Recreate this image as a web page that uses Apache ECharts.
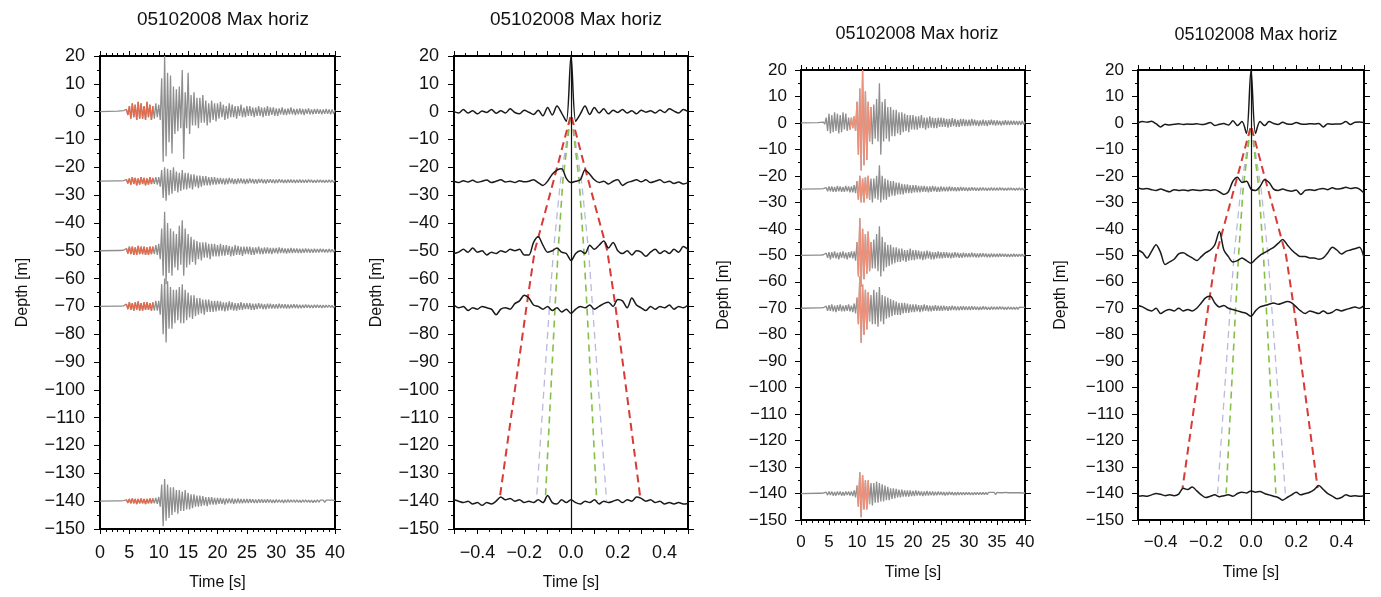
<!DOCTYPE html>
<html><head><meta charset="utf-8">
<script src="https://cdn.jsdelivr.net/npm/echarts@6/dist/echarts.min.js"></script>
<style>html,body{margin:0;padding:0;background:#fff}#c{width:1381px;height:597px}</style>
</head><body><div id="c"></div>
<script>
// ---------------- data ----------------
const titleText = '05102008 Max horiz';
const traceDepths = [0, -25, -50, -70, -140];
const seisStart = 3, seisStep = 0.25;   // seismogram sample times: 3.00, 3.25, ... 40.00 s

// panel 1 seismograms (amplitude relative to trace depth)
const p1Trace0 = [0.2,-0.2,0.3,-0.3, 0.4,-0.3,0.8,-1.2, 2,-2.5,3,-2, 2.5,-3,3.5,-2.5, 3,-2.5,2,-3, 3.5,-2,2.5,-3, 2,-2.5,3,-2, 2.5,-3,12,-18, 20,-16,14,-11, 13,-15,9,-8, 8,-7,9,-6, 15,-17,7,-6, 14,-8,6,-5, 7,-5,5,-6, 5,-4,6,-4, 4,-5,3,-4, 4,-3,3,-3.5,
  3,-2.5,3.5,-2, 2.5,-3,2,-2.5, 3,-2,2.5,-2, 2,-2.5,2,-1.5, 2.5,-2,1.5,-2,
  2,-1.5,2,-1.5, 1.5,-2,1.5,-1.5, 2,-1.5,1.5,-2, 1.5,-1.5,2,-1.5, 1.5,-1.2,1.5,-1.5,
  1.2,-1.5,1.2,-1, 1.5,-1.2,1,-1.2, 1.2,-1,1.5,-1, 1,-1.2,1,-1, 1.2,-1,1,-1.2,
  1,-0.8,1.2,-1, 0.8,-1,1,-0.8, 1,-0.8,0.8,-1, 0.8,-0.8,1,-0.8, 0.8,-1,0.8,-0.8, 0.6];
const p1Trace1 = [0.1,-0.1,0.1,-0.1, 0.2,-0.2,0.6,-0.8, 1,-1.2,1.5,-1, 1.2,-1.5,1,-1.2, 1.5,-1,1.2,-1.5, 1,-1.2,1.5,-1, 1.2,-1,1.5,-1.2, 1.5,-2,4,-6, 5,-7,4.5,-5, 4,-4.5,5,-3.5, 3.5,-4,3,-3.5, 4,-3,3,-3, 3,-2.5,2.5,-3, 2.5,-2,2,-2.5, 2,-2,1.8,-1.5, 1.8,-1.5,1.5,-1.5, 1.5,-1.2,1.5,-1.2,
  1.2,-1,1.2,-1, 1,-1.2,1,-1, 1.2,-0.8,1,-1, 0.8,-1,1,-0.8, 1,-0.8,0.8,-1,
  0.8,-0.8,1,-0.7, 0.8,-0.8,0.7,-0.8, 0.8,-0.6,0.8,-0.7, 0.6,-0.8,0.7,-0.6, 0.7,-0.6,0.6,-0.7,
  0.6,-0.6,0.7,-0.5, 0.6,-0.6,0.5,-0.6, 0.6,-0.5,0.6,-0.5, 0.5,-0.6,0.5,-0.5, 0.6,-0.5,0.5,-0.5,
  0.5,-0.5,0.6,-0.4, 0.5,-0.5,0.4,-0.5, 0.5,-0.4,0.5,-0.4, 0.4,-0.5,0.4,-0.4, 0.5,-0.4,0.4,-0.4, 0.3];
const p1Trace2 = [0.1,-0.1,0.1,-0.1, 0.2,-0.3,0.8,-1, 1.5,-1.2,1.5,-1.5, 1.2,-1.5,1.8,-1.2, 1.5,-1.2,1.5,-1.5, 1.2,-1.5,1.5,-1.2, 1.5,-1.2,2,-1.5, 2.5,-3,8,-9, 14,-12,10,-8, 8,-9,7,-6, 6,-7,9,-5, 11,-9,8,-6, 6,-5,5,-4, 4,-5,3.5,-3, 3,-3.5,3,-2.5, 3,-2.5,2.5,-3, 2.5,-2,2.5,-2,
  2,-2,2.5,-1.8, 2,-1.8,2,-1.5, 1.8,-2,1.5,-1.8, 2,-1.5,1.8,-1.5, 1.5,-1.8,1.5,-1.2,
  1.5,-1.2,1.5,-1.5, 1.2,-1.5,1.2,-1, 1.5,-1.2,1,-1.2, 1.2,-1,1.2,-1, 1,-1.2,1,-0.8,
  1,-1,1.2,-0.8, 1,-0.8,0.8,-1, 0.8,-0.8,1,-0.8, 0.8,-0.7,0.8,-0.8, 0.7,-0.8,0.7,-0.7,
  0.8,-0.6,0.7,-0.7, 0.6,-0.7,0.7,-0.6, 0.6,-0.6,0.7,-0.5, 0.6,-0.6,0.5,-0.6, 0.6,-0.5,0.5,-0.5, 0.4];
const p1Trace3 = [0.1,-0.1,0.1,-0.1, 0.2,-0.3,0.8,-1, 1.5,-1.2,1.2,-1.5, 1.5,-1.2,1.8,-1.5, 1.2,-1.5,1.5,-1.2, 1.5,-1.2,1.2,-1.5, 1.5,-1.5,2,-1.5, 2,-3,8,-10, 10,-13,9,-8, 7,-8,6,-6, 6,-5,7,-6, 8,-6,6,-5, 5,-4,4,-4.5, 4,-3.5,3,-3, 3,-2.5,2.5,-3, 2.5,-2,2.5,-2, 2,-2,2,-1.8,
  2,-1.5,1.8,-1.5, 1.5,-1.8,1.5,-1.5, 1.8,-1.2,1.5,-1.5, 1.2,-1.5,1.2,-1.2, 1.5,-1.2,1.2,-1,
  1.2,-1,1.2,-1.2, 1,-1.2,1,-1, 1.2,-0.8,1,-1, 0.8,-1,1,-0.8, 1,-0.8,0.8,-0.8,
  0.8,-0.8,1,-0.7, 0.8,-0.7,0.8,-0.8, 0.7,-0.8,0.7,-0.6, 0.8,-0.6,0.7,-0.7, 0.6,-0.7,0.6,-0.6,
  0.7,-0.5,0.6,-0.6, 0.5,-0.6,0.6,-0.5, 0.6,-0.5,0.5,-0.6, 0.5,-0.5,0.5,-0.4, 0.5,-0.4,0.4,-0.5, 0.3];
const p1Trace4 = [0.1,-0.1,0.1,-0.1, 0.2,-0.2,0.5,-0.6, 0.8,-0.8,1,-0.8, 0.8,-1,0.8,-0.8, 1,-0.8,0.8,-1, 0.8,-0.8,1,-0.8, 1,-0.8,1.2,-1, 1.5,-2,6,-9, 8,-7,6,-6, 5,-5,5,-4, 4,-4.5,4,-3.5, 3.5,-3.5,4,-3, 3,-3,2.5,-2.5, 2.5,-2,2,-2, 2,-1.8,1.8,-1.5, 1.5,-1.8,1.5,-1.2, 1.5,-1.2,1.2,-1.2,
  1.2,-1,1.2,-1, 1,-1.2,1,-0.8, 1,-0.8,1,-1, 0.8,-0.8,1,-0.8, 0.8,-0.8,0.8,-0.7,
  0.8,-0.7,0.8,-0.6, 0.7,-0.7,0.6,-0.7, 0.7,-0.6,0.7,-0.6, 0.6,-0.6,0.7,-0.5, 0.6,-0.6,0.5,-0.6,
  0.6,-0.5,0.5,-0.5, 0.5,-0.6,0.5,-0.5, 0.6,-0.5,0.5,-0.4, 0.5,-0.5,0.5,-0.4, 0.4,-0.5,0.5,-0.4,
  0.5,-0.4,0.4,-0.4, 0.4,-0.5,0.4,-0.4, 0.5,-0.4,0.4,-0.3, 0.4,-0.4,0.4,-0.3, 0.4,-0.3,0.4,-0.3, 0.3];

// panel 3 seismograms
const p3Trace0 = [0.1,-0.1,0.2,-0.2, 0.3,-0.5,2,-3, 3.5,-4,3,-3.5, 4,-3,3.5,-4, 3,-3.5,4,-2.5, 3.5,-3,2,-2.5, 2,-2,2.5,-3, 8,-12,13,-18, 20,-16,12,-14, 8,-7,6,-8, 7,-6,9,-7, 15,-12,8,-7, 9,-6,6,-7, 6,-5,5,-5, 5,-4,4,-4.5, 4,-3.5,3.5,-3, 3,-3.5,3,-2.5,
  3,-2.5,2.5,-2.5, 2.5,-2,3,-2, 2,-2.5,2,-2, 2.5,-1.8,2,-2, 1.8,-2,2,-1.5,
  2,-1.5,1.8,-1.5, 1.5,-1.8,1.5,-1.5, 1.8,-1.2,1.5,-1.5, 1.2,-1.5,1.5,-1.2, 1.5,-1.2,1.2,-1.2,
  1.2,-1.2,1.5,-1, 1.2,-1,1,-1.2, 1,-1,1.2,-1, 1,-1.2,1,-0.8, 1.2,-0.8,1,-1,
  1,-0.8,0.8,-1, 0.8,-0.8,1,-0.8, 0.8,-0.8,0.8,-0.7, 0.8,-0.7,0.7,-0.8, 0.7,-0.7,0.7,-0.6, 0.5];
const p3Trace1 = [0.1,-0.1,0.1,-0.1, 0.2,-0.3,0.6,-0.8, 1,-0.8,1,-1, 0.8,-1,1.2,-0.8, 1,-1,0.8,-1, 1.2,-0.8,1,-1.2, 1,-1.2,1.5,-1.5, 3,-4,5,-5, 4,-5,4.5,-3.5, 5,-4,4,-5, 4,-3.5,5,-4, 9,-5,5,-4, 4,-4,3.5,-3, 3,-2.5,3,-2.5, 2.5,-2,2.5,-2, 2,-2,1.8,-1.5, 1.8,-1.5,1.5,-1.5,
  1.5,-1.2,1.5,-1.2, 1.2,-1.2,1.2,-1, 1.2,-1,1,-1.2, 1,-1,1.2,-0.8, 1,-1,0.8,-1,
  1,-0.8,0.8,-0.8, 0.8,-0.8,1,-0.7, 0.8,-0.7,0.7,-0.8, 0.7,-0.7,0.8,-0.6, 0.7,-0.6,0.6,-0.7,
  0.6,-0.6,0.7,-0.5, 0.6,-0.6,0.5,-0.6, 0.6,-0.5,0.6,-0.5, 0.5,-0.6,0.5,-0.5, 0.6,-0.5,0.5,-0.5,
  0.5,-0.5,0.6,-0.4, 0.5,-0.5,0.4,-0.5, 0.5,-0.4,0.5,-0.4, 0.4,-0.5,0.4,-0.4, 0.5,-0.4,0.4,-0.4, 0.3];
const p3Trace2 = [0.1,-0.1,0.1,-0.1, 0.2,-0.3,0.8,-1, 1.2,-1.5,1.2,-1, 1.5,-1.2,1,-1.5, 1.2,-1,1.5,-1.2, 1,-1.5,1.2,-1, 1.5,-1.2,1.5,-2, 5,-8,14,-12, 10,-9,8,-7, 9,-6,5,-5, 6,-5,8,-6, 11,-8,7,-6, 5,-4.5,4,-4, 4,-3.5,3,-3, 3,-2.5,2.5,-2.5, 2.5,-2,2,-2.5, 2,-2,2.5,-1.8,
  2,-1.8,2,-1.5, 1.8,-1.5,1.5,-1.8, 1.5,-1.5,1.8,-1.2, 1.5,-1.5,1.2,-1.5, 1.2,-1.2,1.5,-1.2,
  1.2,-1.2,1.2,-1, 1.2,-1,1,-1.2, 1,-1,1.2,-0.8, 1,-1,0.8,-1, 1,-0.8,0.8,-0.8,
  0.8,-0.8,1,-0.7, 0.8,-0.8,0.7,-0.8, 0.8,-0.7,0.8,-0.6, 0.7,-0.7,0.6,-0.7, 0.7,-0.6,0.6,-0.6,
  0.6,-0.6,0.7,-0.5, 0.6,-0.5,0.6,-0.6, 0.5,-0.6,0.5,-0.5, 0.6,-0.5,0.5,-0.5, 0.5,-0.4,0.5,-0.4, 0.3];
const p3Trace3 = [0.1,-0.1,0.1,-0.1, 0.2,-0.3,0.8,-1, 1.2,-1,1.5,-1.2, 1,-1.5,1.2,-1, 1.5,-1.2,1,-1.2, 1.2,-1,1.5,-1.2, 1,-1.5,1.8,-2, 4,-6,12,-13, 9,-10,7,-8, 6,-5,5,-6, 7,-6,6,-7, 8,-5,5,-6, 4.5,-4,4,-3.5, 3.5,-3,3,-2.5, 2.5,-2.5,2,-2.5, 2,-2,2,-1.8, 1.8,-1.8,1.5,-1.5,
  1.5,-1.5,1.5,-1.2, 1.2,-1.5,1.2,-1.2, 1.5,-1,1.2,-1.2, 1,-1.2,1,-1, 1.2,-1,1,-1,
  1,-1,1,-0.8, 0.8,-1,0.8,-0.8, 1,-0.7,0.8,-0.8, 0.7,-0.8,0.8,-0.7, 0.8,-0.7,0.7,-0.7,
  0.7,-0.7,0.8,-0.6, 0.7,-0.6,0.6,-0.7, 0.6,-0.6,0.7,-0.5, 0.6,-0.6,0.5,-0.6, 0.6,-0.5,0.5,-0.5,
  0.5,-0.5,0.6,-0.4, 0.5,-0.5,0.4,-0.5, 0.5,-0.4,0.4,-0.4, 0.4,-0.4,0.4,-0.4, 0.4,-0.3,0.3,-0.4, 0.3];
const p3Trace4 = [0.1,-0.1,0.1,-0.1, 0.2,-0.2,0.5,-0.6, 0.8,-0.6,0.8,-0.8, 0.6,-0.8,0.8,-0.6, 0.8,-0.8,0.6,-0.8, 0.8,-0.6,0.8,-0.8, 0.8,-1,1.2,-1.5, 3,-5,8,-9, 7,-6,5,-6, 5,-4,4,-4.5, 4,-3.5,4.5,-3.5, 4,-3,3.5,-3, 3,-2.5,2.5,-2.5, 2,-2,2,-1.8, 1.8,-1.5,1.5,-1.5, 1.5,-1.2,1.2,-1.2, 1.2,-1.2,1.2,-1,
  1,-1,1.2,-0.8, 1,-0.8,0.8,-1, 0.8,-0.8,1,-0.8, 0.8,-0.7,0.8,-0.8, 0.7,-0.7,0.8,-0.6,
  0.7,-0.6,0.6,-0.7, 0.6,-0.6,0.7,-0.5, 0.6,-0.6,0.5,-0.6, 0.6,-0.5,0.5,-0.5, 0.5,-0.5,0.5,-0.4,
  0.5,-0.5,0.4,-0.5, 0.5,-0.4,0.4,-0.4, 0.4,-0.4,0.5,-0.4, 0.4,-0.4,0.4,-0.3, 0.4,-0.3,0.4,-0.4,
  0.4,-0.3,0.3,-0.4, 0.3,-0.3,0.4,-0.3, 0.3,-0.3,0.3,-0.3, 0.3,-0.3,0.3,-0.2, 0.3,-0.3,0.2,-0.3, 0.2];

// highlighted (red) time windows per trace [s]
const p1RedStart = [4.5, 4.5, 4.5, 4.5, 4.5];
const p1RedEnd   = [9, 9, 9, 9, 9];
const p3RedStart = [8.75, 10, 10, 10, 10];
const p3RedEnd   = [12.5, 12.25, 12.5, 12.25, 12.25];

// cross-correlation traces (depth values), lag -0.5 ... 0.5 s, step 0.02 s
const lagStart = -0.5, lagStep = 0.02;
const p2Corr0 = [0,-0.5,0.8,-0.5,0.3,-0.8,0.2,-0.3,0.8,-0.6,0.3,-0.5,1,-0.3,-0.8,0.5,-0.2,-1,0.5,-1.5,1.5,-1.2,2,-0.5,-3.5,20,-3.5,-0.8,2,-1,1.5,-0.5,1,-0.8,0.5,-0.3,0.8,-0.5,0.3,-0.8,0.5,-0.2,0.3,-0.5,0.6,-0.3,1,0.2,-0.5,0.8,0];
const p2Corr1 = [-25,-25.5,-24.8,-25.3,-24.7,-25.4,-25,-24.6,-25.5,-25,-24.5,-25.3,-25,-25.5,-24.8,-25.2,-25,-24.5,-25.5,-26.5,-25,-22.5,-21,-20.5,-24,-25.5,-25,-24.5,-21,-22.5,-24.5,-25.5,-25,-26,-25,-24.5,-26.5,-25.5,-25,-24.5,-25.2,-24.5,-25.5,-25,-24.5,-25.5,-25,-25.8,-25.3,-26,-25.5];
const p2Corr2 = [-51,-50.5,-49.5,-50.5,-49,-50.5,-50,-51.5,-50.5,-51,-50,-50.5,-49.5,-50,-49.5,-51.5,-51.5,-47,-45,-48,-50.5,-50,-49,-50.5,-51,-53.5,-51,-50,-51,-48,-49.5,-48,-46.5,-49,-47,-50,-51,-50,-51.5,-50,-50.5,-52,-50.5,-49.5,-51,-50,-51,-49.5,-50.5,-48.5,-49.5];
const p2Corr3 = [-69.5,-70.5,-70,-71.5,-70.5,-71,-70,-70.5,-71,-73,-71,-70.5,-71,-69,-68,-66,-67,-69.5,-70,-71,-70,-71.5,-70.5,-72,-71,-72.5,-71,-70,-70.5,-69.5,-71,-70,-69,-68.5,-70,-67.5,-68,-70.5,-67,-69.5,-70.5,-71.5,-70,-71,-70,-70.5,-69.5,-71,-70,-70.5,-69.5];
const p2Corr4 = [-139.5,-140,-140.5,-140,-141,-140.5,-141.5,-140.5,-141,-140,-138.5,-139.5,-139,-140,-139.5,-140.5,-140,-140.5,-139.5,-140.5,-138,-140.5,-141,-139.5,-140.5,-139.5,-140.5,-141,-140,-140.5,-139.5,-141,-140,-140.5,-140,-139.5,-140.5,-139.5,-140,-138.5,-139,-140,-139.5,-140.5,-140,-141,-140.5,-141,-140.5,-141,-140.8];
const p4Corr0 = [0,0.5,0.3,0.6,-0.3,-1.5,-0.5,-0.8,-0.5,-0.3,-0.6,-0.4,-0.5,-0.3,-0.6,-0.4,0.2,-1,-0.5,-0.2,-0.8,0.8,-1,0.5,-4,20,-4,0.5,-1,0.5,-0.2,-0.6,0.3,-0.4,-0.5,0.2,-0.4,-0.5,-0.3,-0.4,-0.2,-1.5,-0.3,-0.5,-0.4,-0.3,0.5,-0.6,0.3,0.4,0.2];
const p4Corr1 = [-24.5,-25,-24.8,-25.2,-25.5,-25,-25.5,-26,-25.2,-25.5,-25.3,-25.6,-25.2,-25.4,-25.5,-25.2,-25.5,-25.2,-26,-27,-26,-22,-20.5,-22.5,-22,-25,-25.5,-24,-21.5,-22.5,-25,-25.5,-25,-25.5,-25.8,-25.3,-27,-25.5,-25.2,-25.5,-25,-24.8,-25.2,-24.5,-25,-24.8,-24.3,-24.8,-24.5,-25,-26.5];
const p4Corr2 = [-48,-49,-51,-48.5,-46,-49,-53.5,-52.5,-51.5,-49.5,-49,-50,-51,-52,-50.5,-49,-48,-46,-41,-48,-50.5,-52.5,-52,-51,-52,-53,-51.5,-50,-49,-48,-47,-45.5,-44,-46,-48,-49.5,-50.5,-50.5,-51,-51,-51.5,-51,-49,-47,-48,-49.5,-48.5,-48,-47.5,-47,-51];
const p4Corr3 = [-69,-69.5,-70.5,-71,-70,-72,-71,-70.5,-71,-70,-71,-70.5,-71,-70,-68,-66,-65.5,-68,-69.5,-69,-70,-70.5,-71,-71.5,-72,-73,-71,-69.5,-69,-68.5,-68,-68.5,-68,-67.5,-68,-69.5,-71,-72,-71,-71.5,-72,-71,-72,-71.5,-70.5,-71,-70.5,-70,-69.5,-70,-69];
const p4Corr4 = [-141,-140.8,-141,-140.5,-140,-140.3,-140.8,-140.5,-140.8,-140.2,-138,-138.5,-137.5,-139,-140.5,-141.5,-141,-140.5,-141.2,-140.8,-140.5,-141,-140,-139.5,-139.8,-139,-139.5,-139.2,-140,-140.5,-141,-141.5,-142.5,-141.5,-140.5,-139.5,-140.5,-140,-139.5,-138.5,-137,-138.5,-140,-141,-142,-141.5,-140.5,-141,-140.8,-141,-140.8];

// dashed travel-time curves (lag [s] vs depth [m])
const redDepth = [-2, -25, -50, -70, -138];
const redLeftT  = [-0.003, -0.075, -0.155, -0.19, -0.303];
const redRightT = [0.003, 0.075, 0.155, 0.19, 0.295];
const thinDepth = [-2, -25, -50, -70, -140];
const greenLeftT  = [-0.003, -0.035, -0.055, -0.068, -0.11];
const greenRightT = [0.003, 0.035, 0.055, 0.068, 0.11];
const lilacLeftT  = [-0.003, -0.045, -0.075, -0.092, -0.148];
const lilacRightT = [0.003, 0.045, 0.075, 0.092, 0.152];

// ---------------- chart ----------------
const FONT = '"Liberation Sans", Arial, Helvetica, sans-serif';
const INK = '#000';
const grids = [
  {left: 100, top: 56, width: 235, height: 473},
  {left: 454, top: 56, width: 234, height: 473},
  {left: 801, top: 70, width: 224, height: 450},
  {left: 1138, top: 70, width: 226, height: 450}
];
const fmtDepth = v => String(v).replace('-', '\u2212');
const fmtTime = v => String(v);
const fmtLag = v => { const k = Math.round(v * 10); return (k % 2 === 0) ? (k / 10).toFixed(1).replace('-', '\u2212') : ''; };

const xAxes = [], yAxes = [];
function addAxes(gi, xmin, xmax, xint, xminor, xfmt, fs, xNameGap, lblMargin) {
  const tickLine = {color: INK, width: 1};
  xAxes.push({type: 'value', gridIndex: gi, position: 'bottom', min: xmin, max: xmax, interval: xint,
    axisLine: {show: true, onZero: false, lineStyle: {color: INK, width: 2}},
    axisTick: {show: true, length: 5, lineStyle: tickLine},
    minorTick: {show: true, splitNumber: xminor, length: 3, lineStyle: tickLine},
    splitLine: {show: false}, minorSplitLine: {show: false},
    axisLabel: {fontSize: fs, color: '#111', fontFamily: FONT, margin: lblMargin, formatter: xfmt},
    name: 'Time [s]', nameLocation: 'middle', nameGap: xNameGap,
    nameTextStyle: {fontSize: 16, color: '#111', fontFamily: FONT}});
  xAxes.push({type: 'value', gridIndex: gi, position: 'top', min: xmin, max: xmax, interval: xint,
    axisLine: {show: true, onZero: false, lineStyle: {color: INK, width: 2}},
    axisTick: {show: true, length: 5, lineStyle: tickLine},
    minorTick: {show: true, splitNumber: xminor, length: 3, lineStyle: tickLine},
    splitLine: {show: false}, axisLabel: {show: false}});
  yAxes.push({type: 'value', gridIndex: gi, position: 'left', min: -150, max: 20, interval: 10,
    axisLine: {show: true, onZero: false, lineStyle: {color: INK, width: 2}},
    axisTick: {show: true, length: 6, lineStyle: tickLine},
    minorTick: {show: true, splitNumber: 2, length: 3, lineStyle: tickLine},
    splitLine: {show: false}, minorSplitLine: {show: false},
    axisLabel: {fontSize: fs, color: '#111', fontFamily: FONT, margin: lblMargin, formatter: fmtDepth},
    name: 'Depth [m]', nameLocation: 'middle', nameGap: 69, nameRotate: 90,
    nameTextStyle: {fontSize: 16, color: '#111', fontFamily: FONT}});
  yAxes.push({type: 'value', gridIndex: gi, position: 'right', min: -150, max: 20, interval: 10,
    axisLine: {show: true, onZero: false, lineStyle: {color: INK, width: 2}},
    axisTick: {show: true, length: 6, lineStyle: tickLine},
    minorTick: {show: true, splitNumber: 2, length: 3, lineStyle: tickLine},
    splitLine: {show: false}, axisLabel: {show: false}});
}
addAxes(0, 0, 40, 5, 5, fmtTime, 18, 46, 15);
addAxes(1, -0.5, 0.5, 0.1, 2, fmtLag, 18, 46, 15);
addAxes(2, 0, 40, 5, 5, fmtTime, 17, 45, 14);
addAxes(3, -0.5, 0.5, 0.1, 2, fmtLag, 17, 45, 14);

const series = [];
function seis(gi, traces, rs, re, redColor) {
  traces.forEach((vals, k) => {
    const base = traceDepths[k];
    const d = [[0, base]];
    vals.forEach((v, i) => d.push([seisStart + i * seisStep, base + v]));
    series.push({type: 'line', xAxisIndex: gi * 2, yAxisIndex: gi * 2, data: d, symbol: 'none',
      lineStyle: {color: '#8e8e8e', width: 1.3}, silent: true, z: 2});
    series.push({type: 'line', xAxisIndex: gi * 2, yAxisIndex: gi * 2,
      data: d.filter(p => p[0] >= rs[k] && p[0] <= re[k]), symbol: 'none',
      lineStyle: {color: redColor, width: 1.3}, silent: true, z: 3});
  });
}
seis(0, [p1Trace0, p1Trace1, p1Trace2, p1Trace3, p1Trace4], p1RedStart, p1RedEnd, '#e5694b');
seis(2, [p3Trace0, p3Trace1, p3Trace2, p3Trace3, p3Trace4], p3RedStart, p3RedEnd, '#ee907a');

function corr(gi, traces) {
  const ax = {xAxisIndex: gi * 2, yAxisIndex: gi * 2};
  const dash = (ts, ds, color, width, type) => series.push(Object.assign({type: 'line', data: ts.map((t, i) => [t, ds[i]]),
    symbol: 'none', lineStyle: {color, width, type}, silent: true, z: 2}, ax));
  dash(lilacLeftT, thinDepth, '#b9b9dd', 1.3, [7, 5]);
  dash(lilacRightT, thinDepth, '#b9b9dd', 1.3, [7, 5]);
  dash(greenLeftT, thinDepth, '#86bf48', 1.6, [7, 5]);
  dash(greenRightT, thinDepth, '#86bf48', 1.6, [7, 5]);
  dash(redLeftT, redDepth, '#d83a35', 2, [8, 5]);
  dash(redRightT, redDepth, '#d83a35', 2, [8, 5]);
  traces.forEach((vals, k) => {
    series.push(Object.assign({type: 'line', data: vals.map((v, i) => [lagStart + i * lagStep, v]),
      symbol: 'none', smooth: 0.3, lineStyle: {color: '#1a1a1a', width: 1.5}, silent: true, z: 4,
      markLine: k === 0 ? {silent: true, symbol: 'none', label: {show: false},
        lineStyle: {color: '#111', width: 1.2, type: 'solid'}, data: [{xAxis: 0}]} : undefined}, ax));
  });
}
corr(1, [p2Corr0, p2Corr1, p2Corr2, p2Corr3, p2Corr4]);
corr(3, [p4Corr0, p4Corr1, p4Corr2, p4Corr3, p4Corr4]);

const titles = [
  {cx: 218, top: 5, fs: 19}, {cx: 571, top: 5, fs: 19},
  {cx: 912, top: 20, fs: 18}, {cx: 1251, top: 21, fs: 18}
].map(t => ({text: titleText, left: t.cx, top: t.top, textAlign: 'center',
  textStyle: {fontSize: t.fs, fontWeight: 'normal', color: '#111', fontFamily: FONT}}));

const chart = echarts.init(document.getElementById('c'), null, {renderer: 'canvas'});
chart.setOption({
  backgroundColor: '#ffffff',
  animation: false,
  title: titles,
  grid: grids.map(g => Object.assign({show: false, outerBoundsMode: 'none', containLabel: false}, g)),
  xAxis: xAxes,
  yAxis: yAxes,
  series: series
});
</script></body></html>
